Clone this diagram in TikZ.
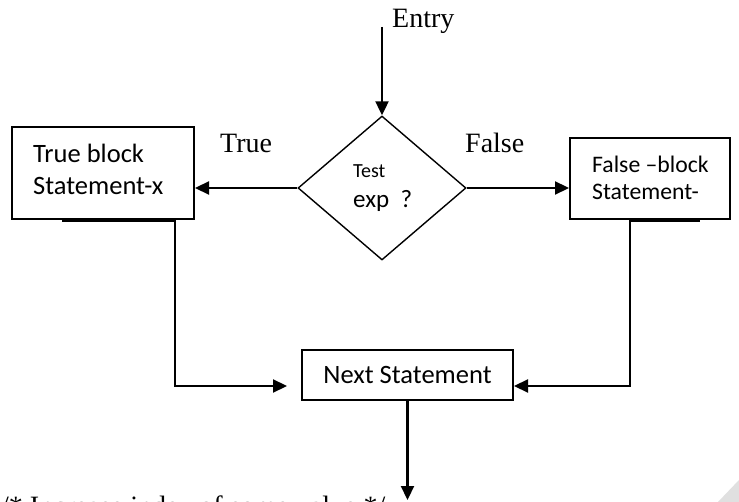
\documentclass[tikz,border=0pt]{standalone}
\usepackage{fontspec}
\setmainfont{Carlito}
\newfontfamily\labfont{Liberation Serif}
\usetikzlibrary{shapes.geometric,arrows.meta}

\tikzset{
  box/.style={draw, line width=2pt, rectangle, inner sep=0pt},
  decision/.style={draw, line width=1.4pt, diamond, inner sep=0pt},
  flow/.style={line width=2.2pt},
  arr/.style={flow, -{Triangle[length=14pt,width=13pt]}},
  boxtext/.style={anchor=base west, inner sep=0pt, font=\fontsize{26.5}{30}\selectfont},
  lbl/.style={anchor=base west, inner sep=0pt, font=\labfont\fontsize{28}{32}\selectfont},
}

\begin{document}
\begin{tikzpicture}[x=1pt, y=-1pt]
  \useasboundingbox (0,0) rectangle (739,502);
  \clip (0,0) rectangle (739,502);
  \fill[white] (0,0) rectangle (739,502);

  % decision and blocks
  \node[decision, minimum width=168pt, minimum height=144pt] (dia) at (382,188) {};
  \node[box, minimum width=182pt, minimum height=92pt] (tb) at (103,173) {};
  \node[box, minimum width=160pt, minimum height=81pt] (fb) at (650,178.5) {};
  \node[box, minimum width=211pt, minimum height=50pt,
        font=\fontsize{26.5}{30}\selectfont] (nx) at (407.5,375) {Next Statement};

  % texts inside the shapes
  \node[boxtext] (tb1) at (33,163) {True block};
  \node[boxtext] (tb2) at (33,195) {Statement-x};
  \node[boxtext, font=\fontsize{23.7}{28}\selectfont] (fb1) at (592,173) {False –block};
  \node[boxtext, font=\fontsize{23.7}{28}\selectfont] (fb2) at (592,200) {Statement-};
  \node[boxtext, font=\fontsize{20}{23}\selectfont] (t1) at (353,178) {Test};
  \node[boxtext, font=\fontsize{25}{30}\selectfont] (t2) at (353,208) {exp\ \ ?};

  % branch labels
  \node[lbl] (entrylbl) at (392,28) {Entry};
  \node[lbl] (truelbl) at (220,153) {True};
  \node[lbl] (falselbl) at (465,153) {False};
  % comment line running off the lower edge
  \node[lbl] (note) at (1,515) {/* Increase index of some value */};

  % entry
  \coordinate (entry) at (382,27);
  \draw[arr] (entry) -- (dia.north);

  % branches
  \draw[arr] (dia.west) -- (dia.west -| tb.east);
  \draw[arr] (dia.east) -- (dia.east -| fb.west);

  % heavier bottom edges under the blocks
  \draw[flow] (62,221) -- (175,221);
  \draw[flow] (630,221) -- (700,221);

  % joins into the next statement
  \coordinate (lj) at (175,386);
  \coordinate (rj) at (630,386);
  \draw[arr, shorten >=14pt] (tb.south -| lj) -- (lj) -- (lj -| nx.west);
  \draw[arr] (fb.south -| rj) -- (rj) -- (rj -| nx.east);

  % exit
  \coordinate (exit) at (407.5,500);
  \draw[arr] (nx.south) -- (exit);

  % corner mark
  \fill[black!12] (718,502) -- (739,480) -- (739,502) -- cycle;
\end{tikzpicture}
\end{document}
